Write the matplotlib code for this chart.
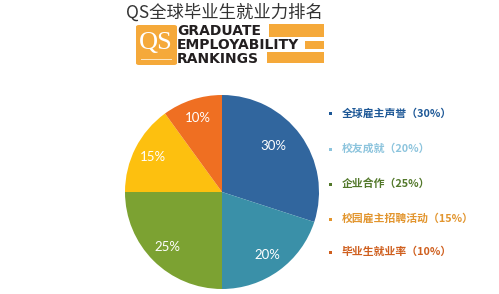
import matplotlib
matplotlib.use("Agg")
from matplotlib import pyplot as plt
from matplotlib.patches import Rectangle, FancyBboxPatch

W, H = 499, 294

labels = ['全球雇主声誉', '校友成就', '企业合作', '校园雇主招聘活动', '毕业生就业率']
shares = [30, 20, 25, 15, 10]
wedge_colors = ['#31669e', '#3a90a8', '#7ca232', '#fdc00f', '#ef6f22']
legend_colors = ['#1c5796', '#8cc4dd', '#52782a', '#e2952e', '#cf5f1e']
title = 'QS全球毕业生就业力排名'
logo_lines = ['GRADUATE', 'EMPLOYABILITY', 'RANKINGS']

def fx(x):
    return x / W

def fy(y):
    return 1 - y / H

fig = plt.figure(figsize=(W / 100, H / 100), dpi=100)
fig.patch.set_facecolor('white')

# title
fig.text(fx(224), fy(13), title, ha='center', va='center', fontsize=12.5,
         color='#333333', family=['Noto Sans CJK SC', 'DejaVu Sans'])

# logo (orange box + bars + text)
orange = '#f5a93a'
fig.patches.append(FancyBboxPatch((fx(136), fy(65)), fx(41), 40 / H,
                                  boxstyle='round,pad=0,rounding_size=0.006',
                                  transform=fig.transFigure, fc=orange, ec='none'))
fig.text(fx(156), fy(43), 'QS', ha='center', va='center', fontsize=19,
         color='white', family='Liberation Serif')
fig.patches.append(Rectangle((fx(141), fy(60)), fx(31), 1 / H,
                             transform=fig.transFigure, fc='#fde6c0', ec='none'))
for x0, y0, y1 in [(269, 24, 37), (305, 41, 49), (267, 52, 63)]:
    fig.patches.append(Rectangle((fx(x0), fy(y1)), fx(324 - x0), (y1 - y0) / H,
                                 transform=fig.transFigure, fc=orange, ec='none'))
for line, yc in zip(logo_lines, [31, 45, 58.5]):
    fig.text(fx(177), fy(yc), line, ha='left', va='center', fontsize=10,
             fontweight='bold', color='#231f20', family='DejaVu Sans')

# pie
cx, cy, r = 222, 192, 97
ax = fig.add_axes([fx(cx - r), fy(cy + r), 2 * r / W, 2 * r / H])
wedges, texts, autotexts = ax.pie(shares, colors=wedge_colors, startangle=90,
                                  counterclock=False, radius=1,
                                  autopct='%d%%', pctdistance=0.8,
                                  textprops=dict(color='white', fontsize=9.5,
                                                 family='Lato'))
autotexts[0].set_position((0.53, 0.47))
ax.set_xlim(-1, 1)
ax.set_ylim(-1, 1)
ax.set_aspect('equal')
ax.axis('off')

# legend
for i, (lab, val, col) in enumerate(zip(labels, shares, legend_colors)):
    yc = [114, 149, 184, 219, 252][i]
    fig.patches.append(Rectangle((fx(329), fy(yc + 1.5)), fx(3), 3 / H,
                                 transform=fig.transFigure, fc=col, ec='none'))
    fig.text(fx(342), fy(yc), f'{lab}（{val}%）', ha='left', va='center',
             fontsize=7.8, fontweight='bold', color=col,
             family=['Noto Sans CJK SC', 'DejaVu Sans'])

fig.savefig('out.png', dpi=100)
